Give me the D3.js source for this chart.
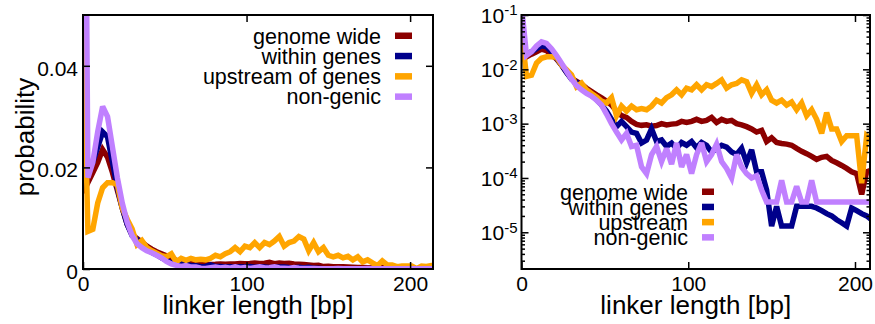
<!DOCTYPE html>
<html><head><meta charset="utf-8">
<script src="https://cdn.jsdelivr.net/npm/d3@7"></script>
<style>
body{margin:0;background:#fff;}
svg{display:block;font-family:"Liberation Sans",Arial,sans-serif;}
</style></head>
<body><svg id="c" width="875" height="324"></svg>
<script>
// ---------------- data ----------------
const linker = [0,3,6,9,12,15,18,21,24,27,30,33,36,39,42,45,48,51,54,57,60,63,66,69,72,75,78,81,84,87,90,93,96,99,102,105,108,111,114,117,120,123,126,129,132,135,138,141,144,147,150,153,156,159,162,165,168,171,174,177,180,183,186,189,192,195,198,201,204,207,210,213,216];
const genomeWide = [0.015,0.017,0.019,0.021,0.0235,0.022,0.019,0.0155,0.012,0.0088,0.0068,0.006,0.0053,0.0045,0.0039,0.0034,0.003,0.0026,0.0022,0.0017,0.0014,0.0013,0.0011,0.00097,0.00093,0.00095,0.0009,0.00092,0.001,0.00095,0.00098,0.001,0.0011,0.00105,0.0011,0.0012,0.0011,0.00115,0.0013,0.00105,0.0012,0.0011,0.00115,0.001,0.00095,0.00088,0.0008,0.0007,0.00075,0.00047,0.00055,0.00045,0.00043,0.00042,0.0004,0.00035,0.00031,0.00028,0.00025,0.00022,0.00024,0.00025,0.00021,0.00019,0.00017,0.00015,0.00013,0.00012,0.00005,0.00013,0.00014,0.00013,0.00012];
const withinGenes = [0.016,0.019,0.021,0.024,0.027,0.026,0.021,0.016,0.012,0.0088,0.0066,0.0058,0.0048,0.0039,0.0033,0.0028,0.0022,0.0017,0.0012,0.00088,0.0011,0.00088,0.0007,0.00066,0.00044,0.0005,0.0008,0.00047,0.0005,0.00038,0.00044,0.00035,0.00045,0.0004,0.00047,0.00036,0.00045,0.0004,0.0003,0.00034,0.0004,0.00037,0.0003,0.00027,0.00035,0.00019,0.00033,0.00013,0.00013,0.00006,0.000013,0.00003,0.000013,0.000013,0.000013,0.00003,0.00003,0.00003,0.00003,0.000028,0.000025,0.000022,0.00002,0.000017,0.000015,0.000013,0.000028,0.000025,0.000022,0.00002,0.000017,0.000016,0.000015];
const upstream = [0.049,0.0074,0.0078,0.013,0.016,0.017,0.017,0.0166,0.012,0.0098,0.0079,0.0048,0.0056,0.0042,0.0036,0.0031,0.0026,0.0024,0.003,0.0014,0.0021,0.0017,0.0021,0.0018,0.0019,0.0018,0.0021,0.0027,0.0024,0.003,0.0034,0.0042,0.0034,0.0045,0.0042,0.0052,0.0042,0.0052,0.0048,0.0055,0.0064,0.0045,0.0052,0.0055,0.0064,0.0059,0.0036,0.0052,0.0034,0.0042,0.0027,0.0024,0.0027,0.0022,0.0025,0.0018,0.0024,0.0014,0.0018,0.0012,0.00066,0.0016,0.0008,0.0008,0.00047,0.0006,0.0006,0.0006,0.00008,0.0006,0.0005,0.0007,0.0006];
const nonGenic = [0.15,0.018,0.021,0.027,0.032,0.030,0.024,0.018,0.013,0.0092,0.0066,0.005,0.0042,0.0036,0.0032,0.0027,0.0022,0.0015,0.001,0.0007,0.0005,0.00066,0.00038,0.0004,0.00016,0.00012,0.00027,0.00038,0.0002,0.00035,0.00018,0.00044,0.00016,0.00027,0.00012,0.00027,0.00044,0.0002,0.00027,0.00042,0.0002,0.00015,0.0001,0.00027,0.00016,0.00012,0.0001,0.00011,0.00006,0.000036,0.000036,0.000036,0.00009,0.000036,0.000036,0.00007,0.000036,0.000036,0.00009,0.000036,0.000036,0.000036,0.000036,0.000036,0.000036,0.000036,0.000036,0.000036,0.000036,0.000036,0.000036,0.000036,0.000036];

const seriesNamesLeft = ["genome wide","within genes","upstream of genes","non-genic"];
const seriesNamesRight = ["genome wide","within genes","upstream","non-genic"];
const seriesColors = ["#8b0000","#00008b","#ffa500","#c080ff"];
const seriesValues = [genomeWide, withinGenes, upstream, nonGenic];

const xTicks = [0,100,200];
const yTicksLin = [0,0.02,0.04];
const yTicksLog = [1e-1,1e-2,1e-3,1e-4,1e-5];
const xLabel = "linker length [bp]";
const yLabel = "probability";

// ---------------- drawing ----------------
const svg = d3.select("#c");
const FONT_TICK = 21, FONT_LEG = 21.5, FONT_LAB = 26;

function panel(opts){
  const {x, y, log, names, legend} = opts;
  const [x0,x1] = x.range(), [y0,y1] = y.range();
  const g = svg.append("g");
  const cid = "clip"+opts.id;
  svg.append("defs").append("clipPath").attr("id",cid)
    .append("rect").attr("x",x0).attr("y",y1).attr("width",x1-x0).attr("height",y0-y1);

  // lines
  const lg = g.append("g").attr("clip-path",`url(#${cid})`);
  seriesValues.forEach((vals,i)=>{
    const pts = linker.map((d,j)=>[d,vals[j]]);
    const line = d3.line().x(d=>x(d[0])).y(d=>y(d[1]));
    lg.append("path").attr("d",line(pts)).attr("fill","none")
      .attr("stroke",seriesColors[i]).attr("stroke-width",5.5)
      .attr("stroke-linejoin","miter").attr("stroke-miterlimit",3);
  });

  // axes
  const styleAxis = sel => { sel.select(".domain").remove(); sel.selectAll("line").attr("stroke","#000").attr("stroke-width",1.5); sel.selectAll("text").attr("fill","#000").attr("font-size",FONT_TICK).attr("font-family",null); };
  g.append("g").attr("transform",`translate(0,${y0})`)
    .call(d3.axisBottom(x).tickValues(xTicks).tickSize(-7).tickPadding(5).tickFormat(d3.format("d")))
    .call(styleAxis).selectAll("text").attr("dy","0.8em");
  g.append("g").attr("transform",`translate(0,${y1})`)
    .call(d3.axisTop(x).tickValues(xTicks.filter(d=>d>0)).tickSize(-7).tickFormat(""))
    .call(styleAxis);
  if(!log){
    g.append("g").attr("transform",`translate(${x0},0)`)
      .call(d3.axisLeft(y).tickValues(yTicksLin).tickSize(-7).tickPadding(5).tickFormat(d=>d===0?"0":d3.format(".2f")(d)))
      .call(styleAxis).selectAll("text").attr("dy","0.45em");
    g.append("g").attr("transform",`translate(${x1},0)`)
      .call(d3.axisRight(y).tickValues(yTicksLin.filter(d=>d>0)).tickSize(-7).tickFormat(""))
      .call(styleAxis);
  } else {
    const minor = [];
    for(let e=-6;e<=-1;e++) for(let m=2;m<=9;m++){const v=m*Math.pow(10,e); if(v>=y.domain()[0]&&v<=y.domain()[1]) minor.push(v);}
    [[d3.axisLeft,x0],[d3.axisRight,x1]].forEach(([ax,px])=>{
      g.append("g").attr("transform",`translate(${px},0)`)
        .call(ax(y).tickValues(minor).tickSize(-3.5).tickFormat(""))
        .call(styleAxis);
    });
    const la = g.append("g").attr("transform",`translate(${x0},0)`)
      .call(d3.axisLeft(y).tickValues(yTicksLog).tickSize(-7).tickPadding(4).tickFormat(""))
      .call(styleAxis);
    la.selectAll(".tick text").attr("dy","0.35em").each(function(d){
      const t = d3.select(this); t.text(null);
      const ex = Math.round(Math.log10(d));
      t.append("tspan").text("10");
      t.append("tspan").attr("font-size",15).attr("dy","-0.5em").text(String(ex));
    });
    g.append("g").attr("transform",`translate(${x1},0)`)
      .call(d3.axisRight(y).tickValues(yTicksLog).tickSize(-7).tickFormat(""))
      .call(styleAxis);
  }

  // frame
  g.append("rect").attr("x",x0).attr("y",y1).attr("width",x1-x0).attr("height",y0-y1)
    .attr("fill","none").attr("stroke","#000").attr("stroke-width",2);

  // x label
  g.append("text").attr("x",(x0+x1)/2).attr("y",314).attr("text-anchor","middle")
    .attr("font-size",FONT_LAB).text(xLabel);

  // legend
  names.forEach((n,i)=>{
    const yy = legend.y + i*legend.dy;
    g.append("text").attr("x",legend.x).attr("y",yy).attr("dy","0.35em").attr("text-anchor","end")
      .attr("font-size",FONT_LEG).text(n);
    g.append("rect").attr("x",legend.sx).attr("y",yy-3.5).attr("width",legend.sw).attr("height",6.5)
      .attr("fill",seriesColors[i]);
  });
}

const xL = d3.scaleLinear().domain([0,214]).range([83,433]);
const yL = d3.scaleLinear().domain([0,0.05]).range([269,15]);
panel({id:"L",x:xL,y:yL,log:false,names:seriesNamesLeft,legend:{x:381,y:36,dy:20.3,sx:395,sw:17}});

const xR = d3.scaleLinear().domain([0,209]).range([521.5,870]);
const yR = d3.scaleLog().domain([Math.pow(10,-5.676),0.1]).range([269,15]);
panel({id:"R",x:xR,y:yR,log:true,names:seriesNamesRight,legend:{x:688,y:192,dy:15.2,sx:702,sw:12}});

// y label
svg.append("text").attr("transform","translate(34,137) rotate(-90)").attr("text-anchor","middle")
  .attr("font-size",FONT_LAB).text(yLabel);
</script></body></html>
